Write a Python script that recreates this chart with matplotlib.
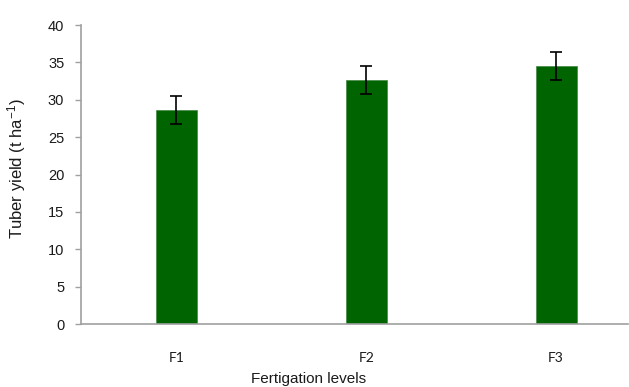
import matplotlib
matplotlib.use("Agg")
import matplotlib.pyplot as plt

plt.rcParams["mathtext.fontset"] = "custom"
plt.rcParams["mathtext.rm"] = "Liberation Sans"
plt.rcParams["mathtext.default"] = "regular"

categories = ["F1", "F2", "F3"]
yield_vals = [28.6, 32.6, 34.5]
yield_err = [1.85, 1.85, 1.9]
yticks = [0, 5, 10, 15, 20, 25, 30, 35, 40]

fig = plt.figure(figsize=(6.29, 3.87), dpi=100)
W, H = 629, 387
left, right, top, bottom = 81, 628, 25, 324
ax = fig.add_axes([left / W, 1 - bottom / H, (right - left) / W, (bottom - top) / H])

x = list(range(len(categories)))
ax.bar(x, yield_vals, width=0.216, color="#006400", edgecolor="#4d8f4d", linewidth=0.6, zorder=2)
ax.errorbar(x, yield_vals, yerr=yield_err, fmt="none", ecolor="black", elinewidth=1.2,
            capsize=4.5, capthick=1.2, zorder=3)

ax.set_xlim(-0.503, 2.379)
ax.set_ylim(0, 40)
ax.set_yticks(yticks)
ax.set_yticklabels([str(v) for v in yticks], fontfamily="Liberation Sans", fontsize=10.5, color="#1a1a1a")
ax.set_xticks(x)
ax.set_xticklabels(categories, fontfamily="Lato", fontsize=10, color="#1a1a1a")

for s in ["top", "right"]:
    ax.spines[s].set_visible(False)
for s in ["left", "bottom"]:
    ax.spines[s].set_color("#a0a0a0")
    ax.spines[s].set_linewidth(1.2)

ax.tick_params(axis="y", direction="out", length=4, width=1, color="#a0a0a0", pad=8)
ax.tick_params(axis="x", length=0, pad=20)

ax.set_ylabel("Tuber yield (t ha$^{-1}$)", fontfamily="Liberation Sans", fontsize=12, color="#1a1a1a")
ax.yaxis.set_label_coords((28 - left) / (right - left), (bottom - 169) / (bottom - top))
ax.set_xlabel("Fertigation levels", fontfamily="Liberation Sans", fontsize=11, color="#1a1a1a")
ax.xaxis.set_label_coords((309 - left) / (right - left), -(372 - bottom) / (bottom - top))

fig.savefig("out.png", dpi=100)
